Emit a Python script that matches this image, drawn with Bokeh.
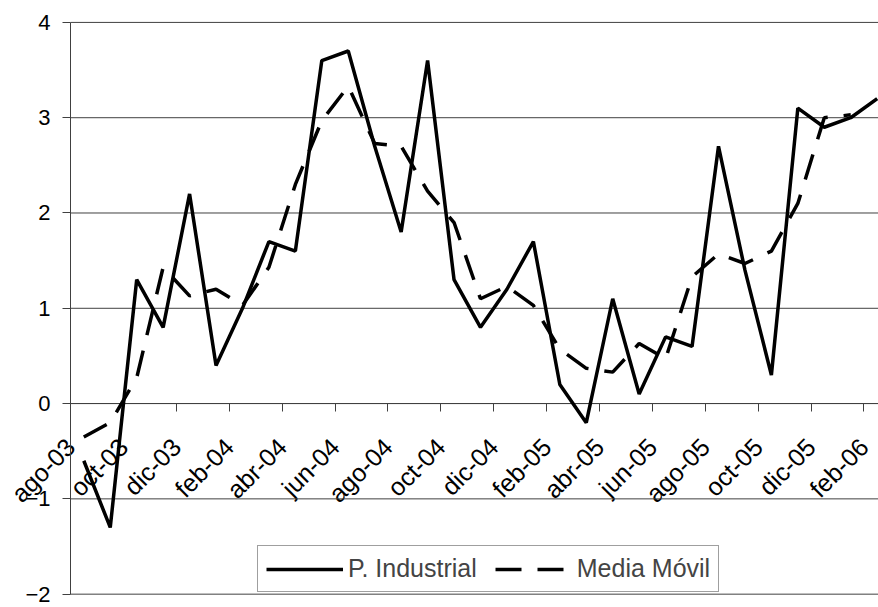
import math
from bokeh.plotting import figure
from bokeh.models import FixedTicker, Range1d, Legend, LegendItem
from bokeh.embed import file_html
from bokeh.resources import INLINE

# ---- data ----
months = ["ago-03", "sep-03", "oct-03", "nov-03", "dic-03", "ene-04", "feb-04", "mar-04",
          "abr-04", "may-04", "jun-04", "jul-04", "ago-04", "sep-04", "oct-04", "nov-04",
          "dic-04", "ene-05", "feb-05", "mar-05", "abr-05", "may-05", "jun-05", "jul-05",
          "ago-05", "sep-05", "oct-05", "nov-05", "dic-05", "ene-06", "feb-06"]

industrial = [-0.6, -1.3, 1.3, 0.8, 2.2, 0.4, 1.0, 1.7, 1.6, 3.6, 3.7, 2.7, 1.8, 3.6, 1.3, 0.8,
              1.2, 1.7, 0.2, -0.2, 1.1, 0.1, 0.7, 0.6, 2.7, 1.4, 0.3, 3.1, 2.9, 3.0, 3.2]

media_movil = [-0.35, -0.2, 0.27, 1.43, 1.13, 1.2, 1.03, 1.43, 2.3, 2.97, 3.33, 2.73, 2.7, 2.23,
               1.9, 1.1, 1.23, 1.03, 0.57, 0.37, 0.33, 0.63, 0.47, 1.33, 1.57, 1.47, 1.6, 2.1,
               3.0, 3.03]

label_months = months[::2]
y_ticks = [-2, -1, 0, 1, 2, 3, 4]

x_ind = list(range(len(industrial)))
x_med = list(range(len(media_movil)))
label_x = [months.index(m) for m in label_months]
# tick marks sit on the category boundaries, labels hang from them
tick_x = [x - 0.5 for x in label_x]
tick_labels = {t: m for t, m in zip(tick_x, label_months)}
x_lo = -0.5                      # left edge of first category
x_hi = len(months) - 0.5         # right edge of last category

FONT = "Liberation Sans"
GRID = "#404040"

# the frame fills the whole figure so the axis texts are never clipped
p = figure(width=878, height=607, output_backend="svg", toolbar_location=None,
           x_range=Range1d(-3.15, 30.05), y_range=Range1d(-2.14, 4.23),
           min_border_left=0, min_border_right=0, min_border_top=0, min_border_bottom=0,
           background_fill_color="white", border_fill_color="white")
p.outline_line_color = None
p.xgrid.visible = False
p.ygrid.visible = False

# horizontal gridlines
p.segment(x0=[x_lo] * len(y_ticks), x1=[x_hi] * len(y_ticks), y0=y_ticks, y1=y_ticks,
          line_color=GRID, line_width=1)

ya = p.yaxis[0]
ya.fixed_location = x_lo
ya.bounds = (min(y_ticks), max(y_ticks))
ya.ticker = FixedTicker(ticks=y_ticks)
ya.axis_line_color = GRID
ya.major_tick_line_color = GRID
ya.major_tick_out = 8
ya.major_tick_in = 0
ya.minor_tick_line_color = None
ya.major_label_text_font = FONT
ya.major_label_text_font_size = "22px"
ya.major_label_text_color = "black"
ya.major_label_standoff = 12

xa = p.xaxis[0]
xa.fixed_location = 0
xa.bounds = (x_lo, x_hi)
xa.ticker = FixedTicker(ticks=tick_x)
xa.major_label_overrides = tick_labels
xa.major_label_orientation = math.pi / 4
xa.major_label_standoff = 31
xa.major_label_text_font = FONT
xa.major_label_text_font_size = "25px"
xa.major_label_text_color = "black"
xa.axis_line_color = GRID
xa.major_tick_line_color = GRID
xa.major_tick_out = 8
xa.major_tick_in = 0
xa.minor_tick_line_color = None
xa.level = "underlay"

r1 = p.line(x_ind, industrial, line_color="black", line_width=3.5)
r2 = p.line(x_med, media_movil, line_color="black", line_width=3.5, line_dash="26 16")

legend = Legend(items=[LegendItem(label="P. Industrial", renderers=[r1]),
                       LegendItem(label="Media Móvil", renderers=[r2])],
                orientation="horizontal", location=(257, 15),
                glyph_width=77, glyph_height=20, label_standoff=5, spacing=18,
                padding=8, margin=0, label_text_font=FONT, label_text_font_size="25px",
                border_line_color=GRID, border_line_width=1,
                background_fill_color="white", background_fill_alpha=1)
p.add_layout(legend)

open("out.html", "w").write(file_html(p, INLINE))
